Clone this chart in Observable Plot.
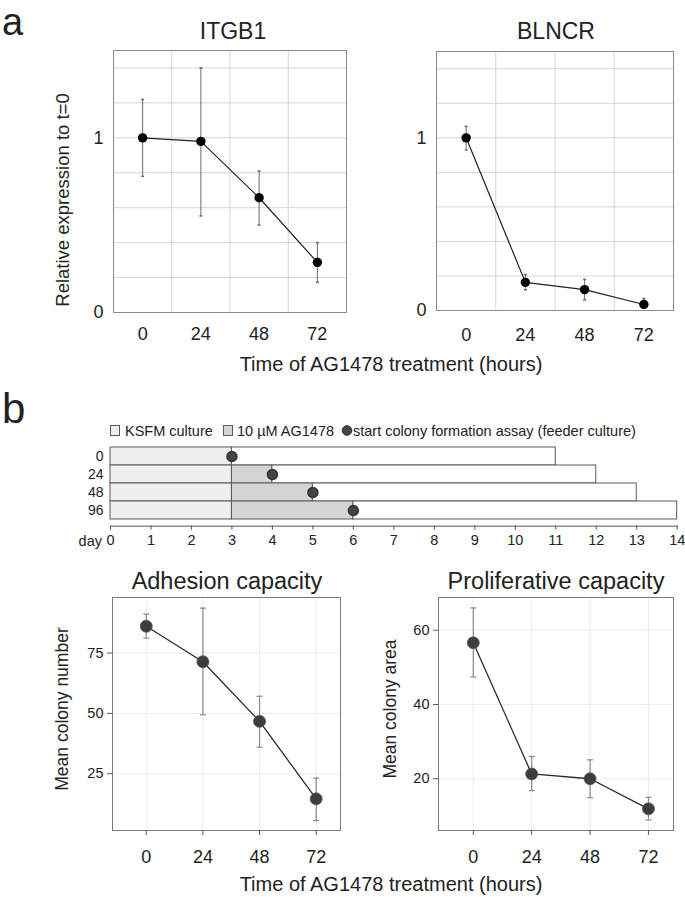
<!DOCTYPE html>
<html>
<head>
<meta charset="utf-8">
<script src="https://cdn.jsdelivr.net/npm/d3@7"></script>
<script src="https://cdn.jsdelivr.net/npm/@observablehq/plot@0.6"></script>
<style>
  html, body { margin: 0; padding: 0; background: #fff; }
  #fig { position: relative; width: 685px; height: 897px; background: #fff; overflow: hidden; }
</style>
</head>
<body>
<div id="fig"></div>
<script>
// ---------------- data ----------------
const hours = [0, 24, 48, 72];

// panel a: relative expression to t=0
const itgb1Mean = [1.0, 0.98, 0.657, 0.287];
const itgb1Low  = [0.78, 0.553, 0.50, 0.173];
const itgb1High = [1.22, 1.40, 0.81, 0.40];

const blncrMean = [1.0, 0.163, 0.121, 0.035];
const blncrLow  = [0.93, 0.12, 0.062, 0.015];
const blncrHigh = [1.066, 0.208, 0.18, 0.07];

const exprTicks = [0, 1];
const exprGrid = [0.2, 0.4, 0.6, 0.8, 1.0, 1.2, 1.4];
const hourMidGrid = [12, 36, 60];

// panel b: timeline
const rows = ["0", "24", "48", "96"];
const treatStart = 3;
const assayDay = [3, 4, 5, 6];
const cultureEnd = [11, 12, 13, 14];
const dayTicks = [0, 1, 2, 3, 4, 5, 6, 7, 8, 9, 10, 11, 12, 13, 14];

// panel b: colony assays
const adhesionMean = [86.1, 71.4, 46.7, 14.6];
const adhesionLow  = [81.2, 49.4, 36.0, 5.6];
const adhesionHigh = [91.1, 93.6, 57.1, 23.2];
const adhesionTicks = [25, 50, 75];

const prolifMean = [56.6, 21.3, 20.0, 11.9];
const prolifLow  = [47.4, 16.8, 14.9, 8.9];
const prolifHigh = [66.0, 26.0, 25.1, 15.0];
const prolifTicks = [20, 40, 60];

// ---------------- helpers ----------------
const font = "'Liberation Sans', Arial, Helvetica, sans-serif";
const fig = document.getElementById("fig");
const table = (m, lo, hi) => hours.map((t, i) => ({t, v: m[i], lo: lo[i], hi: hi[i]}));
const cap = { draw(ctx, size) { const r = Math.sqrt(size / Math.PI); ctx.moveTo(-r, 0); ctx.lineTo(r, 0); } };
const baseStyle = { fontFamily: font, fontSize: "18px", color: "#222", background: "transparent", overflow: "visible" };

function place(el, left, top) {
  el.style.position = "absolute";
  el.style.left = left + "px";
  el.style.top = top + "px";
  fig.appendChild(el);
}

function exprPanel(data, opts) {
  return Plot.plot({
    width: opts.width, height: opts.height,
    marginLeft: opts.ml, marginRight: opts.mr, marginTop: opts.mt, marginBottom: opts.mb,
    style: baseStyle,
    x: {domain: [-12, 84]},
    y: {domain: [0, 1.5]},
    marks: [
      Plot.gridY(exprGrid, {stroke: "#d6d6d6", strokeOpacity: 1}),
      Plot.gridX(hourMidGrid, {stroke: "#d6d6d6", strokeOpacity: 1}),
      Plot.frame({stroke: "#8a8a8a"}),
      Plot.axisX(hours, {tickSize: 0, tickPadding: opts.xpad, label: null, fontSize: 18}),
      Plot.axisY(exprTicks, {tickSize: 0, tickPadding: 10, label: null, fontSize: 18, tickFormat: d => String(d)}),
      Plot.ruleX(data, {x: "t", y1: "lo", y2: "hi", stroke: "#6a6a6a", strokeWidth: 1}),
      Plot.dot(data, {x: "t", y: "lo", symbol: cap, r: 1.5, stroke: "#6a6a6a", fill: "none"}),
      Plot.dot(data, {x: "t", y: "hi", symbol: cap, r: 1.5, stroke: "#6a6a6a", fill: "none"}),
      Plot.line(data, {x: "t", y: "v", stroke: "#222", strokeWidth: 1.2}),
      Plot.dot(data, {x: "t", y: "v", r: 4.7, fill: "#000", stroke: "none"})
    ]
  });
}

function colonyPanel(data, opts) {
  return Plot.plot({
    width: opts.width, height: opts.height,
    marginLeft: opts.ml, marginRight: opts.mr, marginTop: opts.mt, marginBottom: opts.mb,
    style: baseStyle,
    x: {domain: [-14.3, 82.3]},
    y: {domain: opts.yDomain},
    marks: [
      Plot.gridY(opts.yTicks, {stroke: "#ececec", strokeOpacity: 1}),
      Plot.gridX(hours, {stroke: "#ececec", strokeOpacity: 1}),
      Plot.frame({stroke: "#7a7a7a"}),
      Plot.axisX(hours, {tickSize: 5, tickPadding: 15, label: null, fontSize: 18, stroke: "#555"}),
      Plot.axisY(opts.yTicks, {tickSize: 5, tickPadding: 4, label: null, fontSize: 14.5, stroke: "#555"}),
      Plot.ruleX(data, {x: "t", y1: "lo", y2: "hi", stroke: "#8a8a8a", strokeWidth: 1.2}),
      Plot.dot(data, {x: "t", y: "lo", symbol: cap, r: 3, stroke: "#8a8a8a", strokeWidth: 1.2, fill: "none"}),
      Plot.dot(data, {x: "t", y: "hi", symbol: cap, r: 3, stroke: "#8a8a8a", strokeWidth: 1.2, fill: "none"}),
      Plot.line(data, {x: "t", y: "v", stroke: "#2a2a2a", strokeWidth: 1.3}),
      Plot.dot(data, {x: "t", y: "v", r: 6, fill: "#3d3d3d", stroke: "#555", strokeWidth: 0.8})
    ]
  });
}

// ---------------- panel a ----------------
place(exprPanel(table(itgb1Mean, itgb1Low, itgb1High),
  {width: 320, height: 310, ml: 73, mr: 14, mt: 10, mb: 38, xpad: 15}), 40, 40);
place(exprPanel(table(blncrMean, blncrLow, blncrHigh),
  {width: 320, height: 310, ml: 73, mr: 10, mt: 11, mb: 40, xpad: 18}), 363, 40);

// ---------------- panel b timeline ----------------
const phaseFill = {KSFM: "#efefef", AG: "#d4d4d4", feeder: "#ffffff"};
const segments = rows.flatMap((r, i) => [
  {row: r, x1: 0, x2: treatStart, phase: "KSFM"},
  {row: r, x1: treatStart, x2: assayDay[i], phase: "AG"},
  {row: r, x1: assayDay[i], x2: cultureEnd[i], phase: "feeder"}
]);
const starts = rows.map((r, i) => ({row: r, day: assayDay[i]}));

const timeline = Plot.plot({
  width: 625, height: 115,
  marginLeft: 50, marginRight: 8.3, marginTop: 6, marginBottom: 29.3,
  style: {...baseStyle, fontSize: "14.5px"},
  x: {domain: [0, 14]},
  y: {type: "band", domain: rows, range: [6, 80], padding: 0},
  marks: [
    Plot.barX(segments, {x1: "x1", x2: "x2", y: "row", fill: d => phaseFill[d.phase], stroke: "#5a5a5a", strokeWidth: 1}),
    Plot.dot(starts, {x: "day", y: "row", r: 5, fill: "#444", stroke: "#333"}),
    Plot.frame({anchor: "bottom", stroke: "#555"}),
    Plot.axisX(dayTicks, {tickSize: 4, tickPadding: 5, label: null, fontSize: 14.5, stroke: "#555"}),
    Plot.axisY(rows, {tickSize: 0, tickPadding: 7, label: null, fontSize: 14})
  ]
});
place(timeline, 60, 440);

// ---------------- panel b colony assays ----------------
place(colonyPanel(table(adhesionMean, adhesionLow, adhesionHigh),
  {width: 310, height: 290, ml: 72, mr: 10, mt: 7, mb: 50, yDomain: [1.5, 98], yTicks: adhesionTicks}), 40, 590);
place(colonyPanel(table(prolifMean, prolifLow, prolifHigh),
  {width: 318, height: 290, ml: 73, mr: 10, mt: 7, mb: 50, yDomain: [6.07, 68.8], yTicks: prolifTicks}), 365, 590);

// ---------------- text overlay ----------------
const ov = d3.create("svg")
  .attr("width", 685).attr("height", 897)
  .style("position", "absolute").style("left", "0px").style("top", "0px")
  .style("pointer-events", "none")
  .style("font-family", font).attr("fill", "#222");

const texts = [
  {t: "a", x: 2, y: 34.5, size: 38},
  {t: "b", x: 2, y: 423, size: 42},
  {t: "ITGB1", x: 233, y: 39, size: 23, anchor: "middle"},
  {t: "BLNCR", x: 556, y: 39, size: 23, anchor: "middle"},
  {t: "Time of AG1478 treatment (hours)", x: 391, y: 371, size: 20, anchor: "middle"},
  {t: "Adhesion capacity", x: 227, y: 589, size: 23.5, anchor: "middle"},
  {t: "Proliferative capacity", x: 556, y: 589, size: 23.5, anchor: "middle"},
  {t: "Time of AG1478 treatment (hours)", x: 391, y: 891, size: 20, anchor: "middle"},
  {t: "day", x: 102, y: 546, size: 14.5, anchor: "end"}
];
ov.selectAll("text.plain").data(texts).join("text")
  .attr("x", d => d.x).attr("y", d => d.y)
  .attr("font-size", d => d.size)
  .attr("text-anchor", d => d.anchor || "start")
  .text(d => d.t);

const vtexts = [
  {t: "Relative expression to t=0", x: 62, y: 200, size: 18.5},
  {t: "Mean colony number", x: 62, y: 709, size: 17.5},
  {t: "Mean colony area", x: 390, y: 709, size: 17.5}
];
ov.selectAll("text.vert").data(vtexts).join("text")
  .attr("transform", d => `translate(${d.x},${d.y}) rotate(-90)`)
  .attr("font-size", d => d.size)
  .attr("text-anchor", "middle")
  .attr("dominant-baseline", "central")
  .text(d => d.t);

// legend
const legend = ov.append("g").attr("font-size", 14.5);
legend.append("rect").attr("x", 110.5).attr("y", 425.5).attr("width", 9).attr("height", 10)
  .attr("fill", phaseFill.KSFM).attr("stroke", "#5a5a5a");
legend.append("text").attr("x", 125).attr("y", 436).text("KSFM culture");
legend.append("rect").attr("x", 223.5).attr("y", 425.5).attr("width", 9).attr("height", 10)
  .attr("fill", phaseFill.AG).attr("stroke", "#5a5a5a");
legend.append("text").attr("x", 237).attr("y", 436).text("10 µM AG1478");
legend.append("circle").attr("cx", 347).attr("cy", 430.5).attr("r", 4.8).attr("fill", "#444").attr("stroke", "#333");
legend.append("text").attr("x", 353).attr("y", 436).text("start colony formation assay (feeder culture)");

fig.appendChild(ov.node());
</script>
</body>
</html>
